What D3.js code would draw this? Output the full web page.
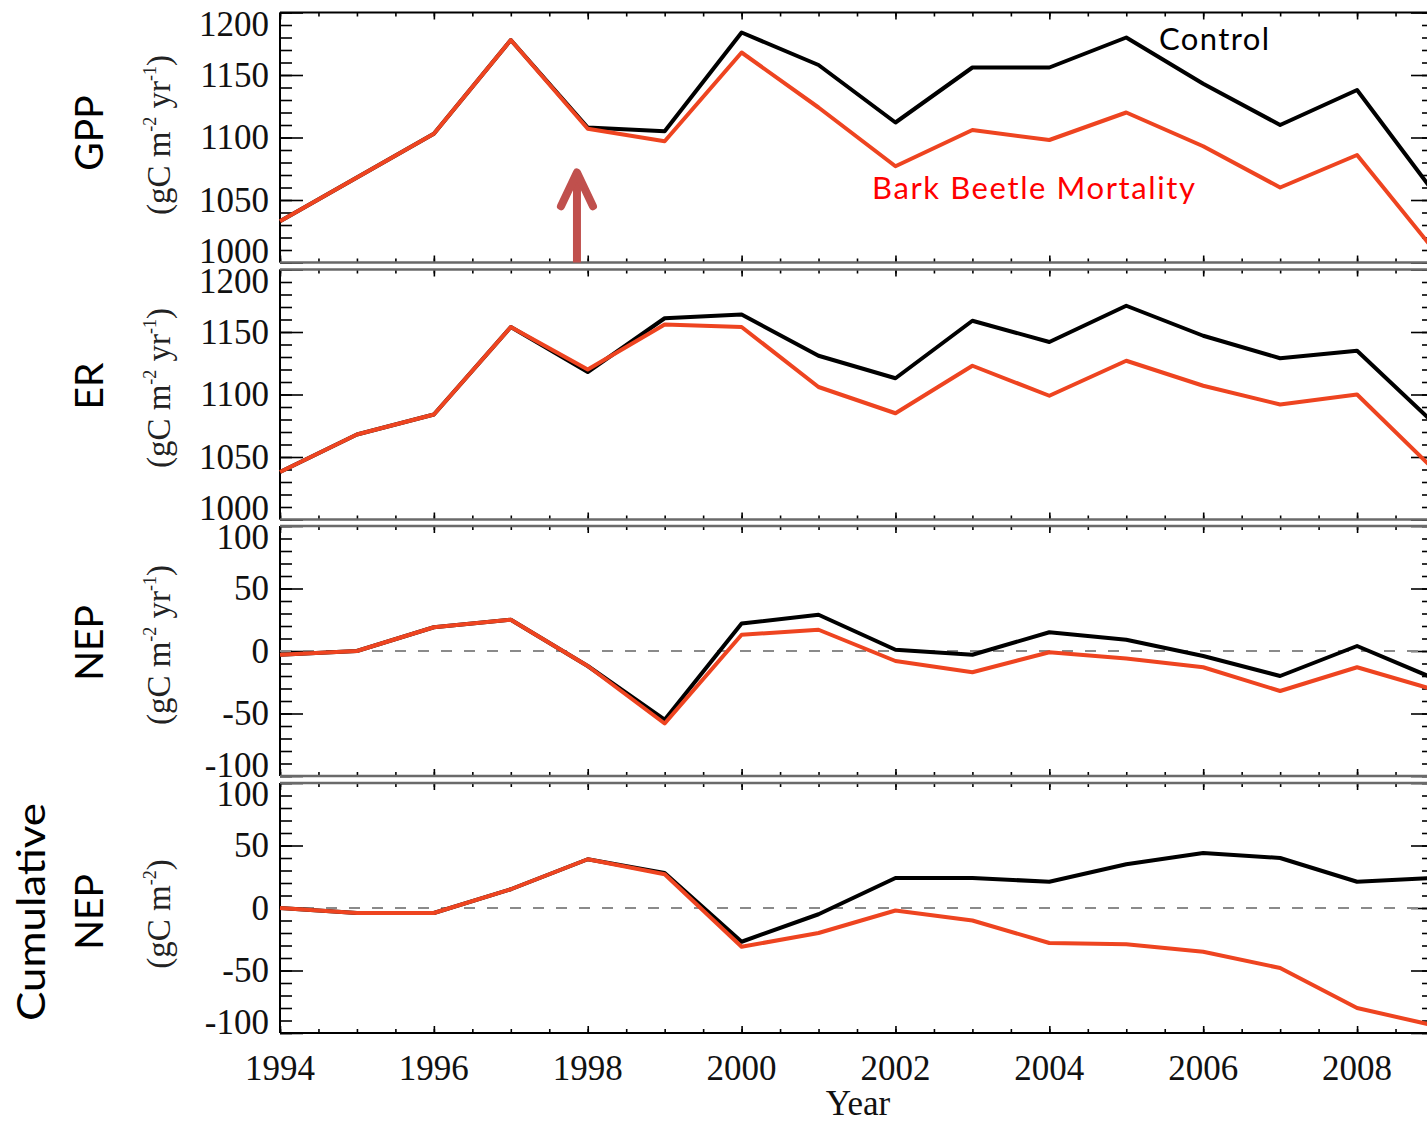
<!DOCTYPE html>
<html>
<head>
<meta charset="utf-8">
<script src="https://cdnjs.cloudflare.com/ajax/libs/d3/7.8.5/d3.min.js"></script>
<style>
body { margin: 0; background: #fff; }
svg { display: block; }
.tick line { stroke: #000; stroke-width: 1.6; }
.domain { display: none; }
.tlab { font-family: "Liberation Serif", "DejaVu Serif", serif; font-size: 35px; fill: #111; }
.unit { font-family: "Liberation Serif", "DejaVu Serif", serif; font-size: 33px; fill: #222; }
.pname { font-family: Lato, "Open Sans", sans-serif; font-size: 39px; fill: #000; }
.note { font-family: Lato, "Open Sans", sans-serif; font-size: 31px; }
</style>
</head>
<body>
<svg width="1427" height="1123"></svg>
<script>
// years on the x axis
var years = [1994, 1995, 1996, 1997, 1998, 1999, 2000, 2001, 2002, 2003, 2004, 2005, 2006, 2007, 2008, 2009];

// gC m-2 yr-1
var gppControl = [1033, 1068, 1103, 1178, 1108, 1105, 1184, 1158, 1112, 1156, 1156, 1180, 1143, 1110, 1138, 1056];
var gppBeetle  = [1033, 1068, 1103, 1178, 1107, 1097, 1168, 1124, 1077, 1106, 1098, 1120, 1093, 1060, 1086, 1010];
var erControl  = [1038, 1068, 1084, 1154, 1118, 1161, 1164, 1131, 1113, 1159, 1142, 1171, 1147, 1129, 1135, 1077];
var erBeetle   = [1038, 1068, 1084, 1154, 1120, 1156, 1154, 1106, 1085, 1123, 1099, 1127, 1107, 1092, 1100, 1040];
var nepControl = [-3, 0, 19, 25, -12, -55, 22, 29, 1, -3, 15, 9, -4, -20, 4, -22];
var nepBeetle  = [-3, 0, 19, 25, -12, -58, 13, 17, -8, -17, -1, -6, -13, -32, -13, -31];
// gC m-2
var cumControl = [0, -4, -4, 15, 39, 28, -27, -5, 24, 24, 21, 35, 44, 40, 21, 24];
var cumBeetle  = [0, -4, -4, 15, 39, 27, -31, -20, -2, -10, -28, -29, -35, -48, -80, -94];

var fluxTicks = [1000, 1050, 1100, 1150, 1200];
var nepTicks = [-100, -50, 0, 50, 100];
var yearTicks = [1994, 1996, 1998, 2000, 2002, 2004, 2006, 2008];

var panelNames = [["GPP"], ["ER"], ["NEP"], ["Cumulative", "NEP"]];
var unitSup = [["-2", "-1"], ["-2", "-1"], ["-2", "-1"], ["-2"]];

var svg = d3.select("svg");
var left = 280, right = 1434, ph = 250;
var tops = [12.5, 269.5, 526, 783];

var x = d3.scaleLinear().domain([1994, 2009]).range([left, right]);

var panels = [
    {name: panelNames[0], ticks: fluxTicks, control: gppControl, beetle: gppBeetle, zero: false, cy: 133},
    {name: panelNames[1], ticks: fluxTicks, control: erControl, beetle: erBeetle, zero: false, cy: 386},
    {name: panelNames[2], ticks: nepTicks, control: nepControl, beetle: nepBeetle, zero: true, cy: 643},
    {name: panelNames[3], ticks: nepTicks, control: cumControl, beetle: cumBeetle, zero: true, cy: 912}
];

var halfYears = d3.range(1994, 2009.01, 0.5);
var scales = [];

panels.forEach(function(p, i) {
    var top = tops[i], bottom = top + ph;
    var lo = p.ticks[0], hi = p.ticks[p.ticks.length - 1];
    var y = d3.scaleLinear().domain([lo, hi]).range([bottom, top]);
    scales.push(y);
    var g = svg.append("g").attr("class", "panel");

    var minorY = d3.range(lo, hi + 1, 10);

    // y ticks, pointing inward on both sides
    g.append("g").attr("transform", "translate(" + left + ",0)")
        .call(d3.axisRight(y).tickValues(minorY).tickSize(12).tickFormat(""));
    g.append("g").attr("transform", "translate(" + left + ",0)")
        .call(d3.axisRight(y).tickValues(p.ticks).tickSize(23).tickFormat(""));
    g.append("g").attr("transform", "translate(" + right + ",0)")
        .call(d3.axisLeft(y).tickValues(minorY).tickSize(12).tickFormat(""));
    g.append("g").attr("transform", "translate(" + right + ",0)")
        .call(d3.axisLeft(y).tickValues(p.ticks).tickSize(23).tickFormat(""));

    // x ticks top and bottom
    g.append("g").attr("transform", "translate(0," + top + ")")
        .call(d3.axisBottom(x).tickValues(halfYears).tickSize(4).tickFormat(""));
    g.append("g").attr("transform", "translate(0," + top + ")")
        .call(d3.axisBottom(x).tickValues(yearTicks).tickSize(7).tickFormat(""));
    g.append("g").attr("transform", "translate(0," + bottom + ")")
        .call(d3.axisTop(x).tickValues(halfYears).tickSize(4).tickFormat(""));
    g.append("g").attr("transform", "translate(0," + bottom + ")")
        .call(d3.axisTop(x).tickValues(yearTicks).tickSize(7).tickFormat(""));

    // frame
    g.append("line").attr("x1", left).attr("x2", left).attr("y1", top).attr("y2", bottom)
        .attr("stroke", "#000").attr("stroke-width", 2);
    g.append("line").attr("x1", right).attr("x2", right).attr("y1", top).attr("y2", bottom)
        .attr("stroke", "#000").attr("stroke-width", 2);
    g.append("line").attr("x1", left).attr("x2", right).attr("y1", top).attr("y2", top)
        .attr("stroke", i == 0 ? "#000" : "#6a6a6a").attr("stroke-width", i == 0 ? 2 : 2.5);
    g.append("line").attr("x1", left).attr("x2", right).attr("y1", bottom).attr("y2", bottom)
        .attr("stroke", i == 3 ? "#000" : "#6a6a6a").attr("stroke-width", i == 3 ? 2 : 2.5);

    // tick labels (extremes pushed inside the panel)
    g.selectAll("text.tlab").data(p.ticks).enter().append("text")
        .attr("class", "tlab")
        .attr("text-anchor", "end")
        .attr("x", left - 11)
        .attr("y", function(d) { return Math.max(top + 23, Math.min(bottom + 0.5, y(d) + 11.5)); })
        .text(function(d) { return d; });

    if (p.zero) {
        g.append("line").attr("x1", left).attr("x2", right).attr("y1", y(0)).attr("y2", y(0))
            .attr("stroke", "#8a8a8a").attr("stroke-width", 2).attr("stroke-dasharray", "11,12");
    }

    var line = d3.line()
        .x(function(d, k) { return x(years[k]); })
        .y(function(d) { return y(d); });

    g.append("path").datum(p.control).attr("d", line)
        .attr("fill", "none").attr("stroke", "#000").attr("stroke-width", 4)
        .attr("stroke-linejoin", "round");
    g.append("path").datum(p.beetle).attr("d", line)
        .attr("fill", "none").attr("stroke", "#ee4420").attr("stroke-width", 4)
        .attr("stroke-linejoin", "round");

    // panel name
    var nameX = p.name.length > 1 ? [31, 89] : [89];
    p.name.forEach(function(n, k) {
        var t = svg.append("text").attr("class", "pname")
            .attr("transform", "translate(" + nameX[k] + "," + p.cy + ") rotate(-90)")
            .attr("text-anchor", "middle").attr("dy", "0.36em")
            .text(n);
        if (n == "Cumulative") t.attr("textLength", 218).attr("lengthAdjust", "spacingAndGlyphs");
    });

    // units
    var u = svg.append("text").attr("class", "unit")
        .attr("transform", "translate(160," + (p.cy + 2) + ") rotate(-90)")
        .attr("text-anchor", "middle").attr("dy", "0.3em");
    u.append("tspan").text("(gC m");
    u.append("tspan").attr("font-size", 18).attr("dy", -14).text(unitSup[i][0]);
    if (unitSup[i].length > 1) {
        u.append("tspan").attr("dy", 14).text(" yr");
        u.append("tspan").attr("font-size", 18).attr("dy", -14).text(unitSup[i][1]);
    }
    u.append("tspan").attr("dy", 14).text(")");
});

// year labels under the last panel
svg.selectAll("text.xlab").data(yearTicks).enter().append("text")
    .attr("class", "tlab")
    .attr("text-anchor", "middle")
    .attr("x", function(d) { return x(d); })
    .attr("y", 1080)
    .text(function(d) { return d; });

svg.append("text").attr("class", "tlab")
    .attr("text-anchor", "middle").attr("x", 858).attr("y", 1115)
    .text("Year");

// legend text
svg.append("text").attr("class", "note").attr("x", 1159).attr("y", 50)
    .attr("textLength", 110).attr("fill", "#000").text("Control");
svg.append("text").attr("class", "note").attr("x", 872).attr("y", 199)
    .attr("textLength", 323).attr("fill", "#f00").text("Bark Beetle Mortality");

// arrow marking the start of the outbreak
var ax = x(1997.86), gy = scales[0];
svg.append("line").attr("x1", ax).attr("x2", ax).attr("y1", gy(1000)).attr("y2", gy(1070))
    .attr("stroke", "#c0504d").attr("stroke-width", 8);
svg.append("path")
    .attr("d", "M" + (ax - 16) + "," + gy(1045) + "L" + ax + "," + gy(1072) + "L" + (ax + 16) + "," + gy(1045))
    .attr("fill", "none").attr("stroke", "#c0504d").attr("stroke-width", 8)
    .attr("stroke-linecap", "round").attr("stroke-linejoin", "round");
</script>
</body>
</html>
